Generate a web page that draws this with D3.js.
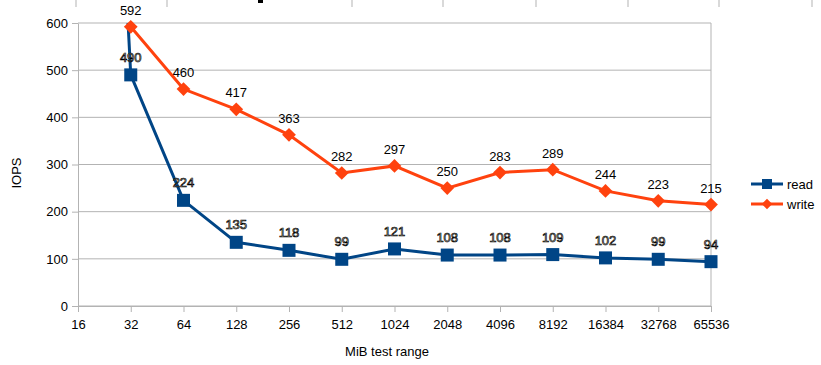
<!DOCTYPE html>
<html>
<head>
<meta charset="utf-8">
<script src="https://cdn.jsdelivr.net/npm/d3@7"></script>
<style>
  body { margin: 0; background: #fff; }
  text { font-family: "Liberation Sans", Arial, sans-serif; }
</style>
</head>
<body>
<div id="chart"></div>
<script>
// data
var categories = ["16", "32", "64", "128", "256", "512", "1024", "2048", "4096", "8192", "16384", "32768", "65536"];
var readValues = [2650, 490, 224, 135, 118, 99, 121, 108, 108, 109, 102, 99, 94];
var writeValues = [null, 592, 460, 417, 363, 282, 297, 250, 283, 289, 244, 223, 215];
var yTicks = [0, 100, 200, 300, 400, 500, 600];

var margin = {top: 23, right: 110, bottom: 59, left: 78},
    width = 711 - margin.left,
    height = 306 - margin.top;

var svg = d3.select("#chart")
  .append("svg")
    .attr("width", 821)
    .attr("height", 365);

// bits of the chart above that got cut off
var topStubs = [76, 167, 352, 443, 536, 628, 719, 812];
svg.selectAll("line.stub")
  .data(topStubs)
  .enter()
  .append("line")
    .attr("x1", function(d) { return d; })
    .attr("x2", function(d) { return d; })
    .attr("y1", 0)
    .attr("y2", 7)
    .attr("stroke", "#b3b3b3");
svg.append("rect")
  .attr("x", 258).attr("y", 0).attr("width", 5).attr("height", 3)
  .attr("fill", "#000");

var g = svg.append("g")
  .attr("transform", "translate(" + margin.left + "," + margin.top + ")");

var x = d3.scalePoint()
  .domain(categories)
  .range([0, width]);

var y = d3.scaleLinear()
  .domain([0, 600])
  .range([height, 0]);

// horizontal grid
g.selectAll("line.grid")
  .data(yTicks)
  .enter()
  .append("line")
    .attr("x1", 0)
    .attr("x2", width)
    .attr("y1", function(d) { return y(d); })
    .attr("y2", function(d) { return y(d); })
    .attr("stroke", "#b3b3b3")
    .attr("stroke-width", 1);

// right border
g.append("line")
  .attr("x1", width).attr("x2", width)
  .attr("y1", 0).attr("y2", height)
  .attr("stroke", "#b3b3b3");

// axes
var xAxis = g.append("g")
  .attr("transform", "translate(0," + height + ")")
  .call(d3.axisBottom(x).tickSizeInner(6).tickSizeOuter(0).tickPadding(4));
var yAxis = g.append("g")
  .call(d3.axisLeft(y).tickValues(yTicks).tickSizeInner(6).tickSizeOuter(0).tickPadding(4));

[xAxis, yAxis].forEach(function(a) {
  a.selectAll("path, line").attr("stroke", "#b3b3b3");
  a.selectAll("text")
    .style("font-size", "13px")
    .style("font-family", "Liberation Sans, Arial, sans-serif")
    .attr("fill", "#000");
});
xAxis.selectAll("text").attr("dy", "1em");

// axis titles
svg.append("text")
  .attr("x", 387)
  .attr("y", 356)
  .attr("text-anchor", "middle")
  .style("font-size", "13px")
  .text("MiB test range");

svg.append("text")
  .attr("transform", "translate(21,173) rotate(-90)")
  .attr("text-anchor", "middle")
  .style("font-size", "13px")
  .text("IOPS");

// clip to plot area
svg.append("clipPath")
  .attr("id", "plotClip")
  .append("rect")
    .attr("x", 0).attr("y", 0)
    .attr("width", width + 10).attr("height", height);

var plot = g.append("g").attr("clip-path", "url(#plotClip)");

var readColor = "#004586",
    writeColor = "#ff420e";

var readData = categories.map(function(c, i) { return {cat: c, v: readValues[i]}; });
var writeData = categories.map(function(c, i) { return {cat: c, v: writeValues[i]}; })
  .filter(function(d) { return d.v != null; });

var line = d3.line()
  .x(function(d) { return x(d.cat); })
  .y(function(d) { return y(d.v); });

plot.append("path")
  .datum(readData)
  .attr("d", line)
  .attr("fill", "none")
  .attr("stroke", readColor)
  .attr("stroke-width", 3);

plot.append("path")
  .datum(writeData)
  .attr("d", line)
  .attr("fill", "none")
  .attr("stroke", writeColor)
  .attr("stroke-width", 3);

var sq = 13;
plot.selectAll("rect.read")
  .data(readData)
  .enter()
  .append("rect")
    .attr("x", function(d) { return x(d.cat) - sq / 2; })
    .attr("y", function(d) { return y(d.v) - sq / 2; })
    .attr("width", sq)
    .attr("height", sq)
    .attr("fill", readColor);

var diamond = d3.symbol().type(d3.symbolDiamond2).size(120);
g.selectAll("path.write")
  .data(writeData)
  .enter()
  .append("path")
    .attr("d", diamond)
    .attr("transform", function(d) { return "translate(" + x(d.cat) + "," + y(d.v) + ")"; })
    .attr("fill", writeColor);

// labels
g.selectAll("text.wlab")
  .data(writeData)
  .enter()
  .append("text")
    .attr("x", function(d) { return x(d.cat); })
    .attr("y", function(d) { return y(d.v) - 12; })
    .attr("text-anchor", "middle")
    .style("font-size", "13px")
    .attr("fill", "#000")
    .text(function(d) { return d.v; });

g.selectAll("text.rlab")
  .data(readData.filter(function(d) { return d.v <= 600; }))
  .enter()
  .append("text")
    .attr("x", function(d) { return x(d.cat); })
    .attr("y", function(d) { return y(d.v) - 13; })
    .attr("text-anchor", "middle")
    .style("font-size", "13px")
    .attr("fill", "#fffbe6")
    .attr("stroke", "#000")
    .attr("stroke-width", 0.7)
    .text(function(d) { return d.v; });

// legend
var legend = svg.append("g");
var legendItems = [
  {name: "read", color: readColor, y: 184},
  {name: "write", color: writeColor, y: 204}
];
legendItems.forEach(function(item, i) {
  legend.append("line")
    .attr("x1", 751).attr("x2", 783)
    .attr("y1", item.y).attr("y2", item.y)
    .attr("stroke", item.color)
    .attr("stroke-width", 3);
  if (i === 0) {
    legend.append("rect")
      .attr("x", 767 - 5).attr("y", item.y - 5)
      .attr("width", 10).attr("height", 10)
      .attr("fill", item.color);
  } else {
    legend.append("path")
      .attr("d", d3.symbol().type(d3.symbolDiamond2).size(70))
      .attr("transform", "translate(767," + item.y + ")")
      .attr("fill", item.color);
  }
  legend.append("text")
    .attr("x", 787)
    .attr("y", item.y + 5)
    .style("font-size", "13px")
    .text(item.name);
});
</script>
</body>
</html>
